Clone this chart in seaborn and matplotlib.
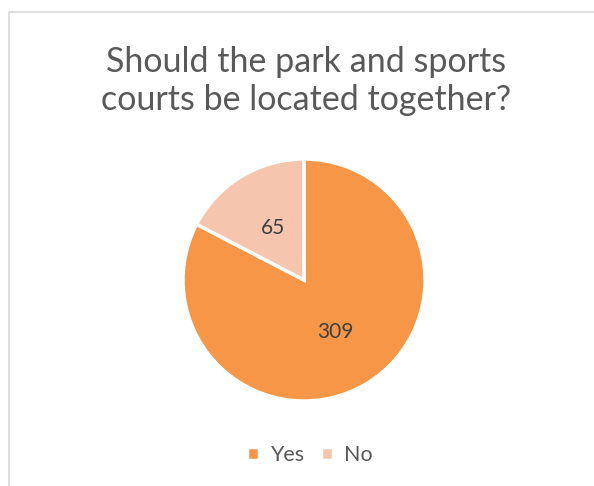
import matplotlib
matplotlib.use("Agg")
import matplotlib.pyplot as plt
import seaborn as sns
from matplotlib.patches import Rectangle

# dane
answers = ["Yes", "No"]
counts = [309, 65]
title_lines = ["Should the park and sports", "courts be located together?"]

colors = ["#F79646", "#F6C5AE"]

sns.set_theme(style="white")
plt.rcParams['font.family'] = ['Lato', 'DejaVu Sans']

W, H = 594, 486
fig = plt.figure(figsize=(W / 100, H / 100), dpi=100)

# ramka wykresu (przycięta z prawej i z dołu)
fig.patches.append(Rectangle((9 / W, -0.1), 1.2, (H - 12) / H + 0.1,
                             transform=fig.transFigure, fill=False,
                             edgecolor="#D9D9D9", linewidth=1.2))

cx, cy, r = 304, 280, 121
ax = fig.add_axes([(cx - r) / W, (H - cy - r) / H, 2 * r / W, 2 * r / H])
wedges, texts, autotexts = ax.pie(
    counts, colors=colors, startangle=90, counterclock=False,
    autopct=lambda p: f"{round(p * sum(counts) / 100):d}", pctdistance=0.5,
    wedgeprops=dict(edgecolor="white", linewidth=2.5),
    textprops=dict(color="#404040", fontsize=15))
ax.set_xlim(-1, 1)
ax.set_ylim(-1, 1)
for w in wedges:
    w.set_clip_on(False)

# tytuł w dwóch liniach
for line, base in zip(title_lines, [72, 110]):
    fig.text(306 / W, 1 - base / H, line, ha="center", va="baseline",
             fontsize=24.5, color="#595959")

fig.legend(wedges, answers, loc="center", bbox_to_anchor=(310 / W, 1 - 455 / H),
           ncol=2, frameon=False, fontsize=15.5, labelcolor="#595959",
           handlelength=0.55, handleheight=0.55, handletextpad=0.5, columnspacing=0.8)

fig.savefig("out.png", dpi=100)
